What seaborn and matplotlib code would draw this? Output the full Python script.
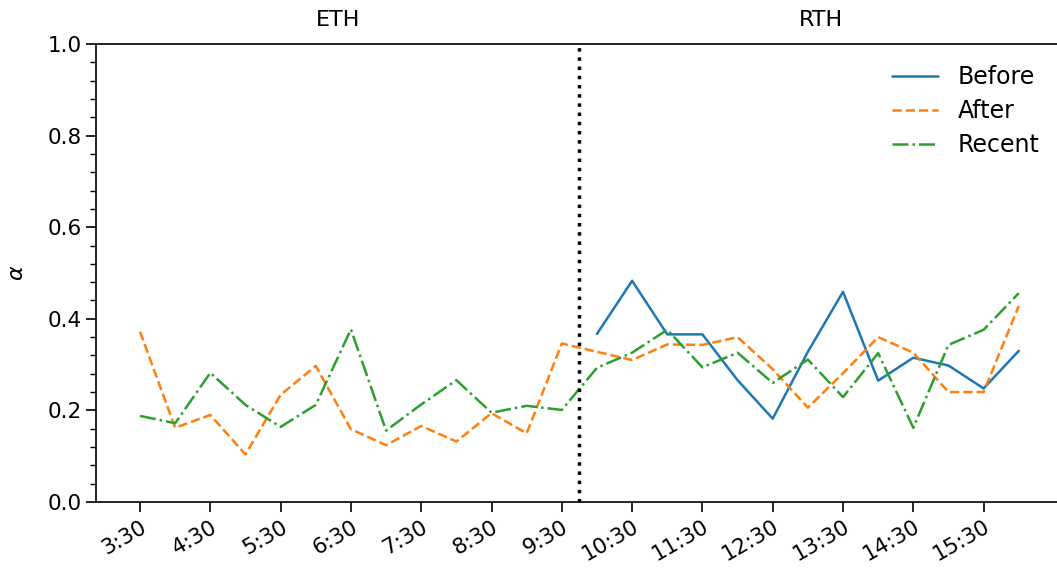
import numpy as np
import pandas as pd
import seaborn as sns
import matplotlib
matplotlib.use("Agg")
import matplotlib.pyplot as plt
from matplotlib.ticker import MultipleLocator

# Half-hourly time grid (hours), 3:30 through 16:00
times = [3.5 + 0.5 * i for i in range(26)]
time_labels = ["3:30", "4:30", "5:30", "6:30", "7:30", "8:30", "9:30",
               "10:30", "11:30", "12:30", "13:30", "14:30", "15:30"]
tick_positions = [3.5 + i for i in range(13)]

# Regular trading hours only (10:00 - 16:00)
before_times = times[13:]
before = [0.367, 0.483, 0.366, 0.366, 0.266, 0.182, 0.328, 0.459,
          0.265, 0.315, 0.298, 0.248, 0.330]

after = [0.372, 0.162, 0.190, 0.104, 0.234, 0.297, 0.159, 0.124,
         0.166, 0.132, 0.194, 0.150, 0.346, 0.328, 0.310, 0.344,
         0.343, 0.360, 0.290, 0.206, 0.281, 0.360, 0.326, 0.240,
         0.240, 0.428]

recent = [0.188, 0.172, 0.282, 0.212, 0.164, 0.212, 0.377, 0.156,
          0.213, 0.266, 0.195, 0.210, 0.201, 0.293, 0.326, 0.376,
          0.294, 0.326, 0.260, 0.311, 0.229, 0.325, 0.162, 0.343,
          0.376, 0.456]

session_split = 9.75

sns.set_style("ticks", rc={
    "axes.edgecolor": "black",
    "axes.labelcolor": "black",
    "text.color": "black",
    "xtick.color": "black",
    "ytick.color": "black",
})
plt.rcParams["font.family"] = ["DejaVu Sans"]

fig = plt.figure(figsize=(10.57, 5.71), dpi=100)
ax = fig.add_axes([96 / 1057, 69 / 571, 966 / 1057, 458 / 571])

palette = sns.color_palette("tab10")
sns.lineplot(x=before_times, y=before, ax=ax, color=palette[0],
             linestyle="-", linewidth=1.8, label="Before")
sns.lineplot(x=times, y=after, ax=ax, color=palette[1],
             linestyle="--", linewidth=1.8, label="After")
sns.lineplot(x=times, y=recent, ax=ax, color=palette[2],
             linestyle="-.", linewidth=1.8, label="Recent")

ax.axvline(session_split, color="black", linestyle=":", linewidth=2.5)

ax.set_xlim(2.874, 16.615)
ax.set_ylim(0, 1.0)
ax.set_xticks(tick_positions)
ax.set_xticklabels(time_labels, rotation=30, ha="right", rotation_mode="anchor")
ax.yaxis.set_major_locator(MultipleLocator(0.2))
ax.yaxis.set_minor_locator(MultipleLocator(0.04))
ax.tick_params(axis="both", which="major", labelsize=15.5, length=7, width=1.2)
ax.tick_params(axis="y", which="minor", length=4, width=1.0)
for s in ax.spines.values():
    s.set_linewidth(1.2)
ax.spines["right"].set_visible(False)

ax.set_ylabel(r"$\alpha$", fontsize=16)
ax.yaxis.set_label_coords(-0.071, 0.5)

trans = ax.get_xaxis_transform()
ax.text((2.874 + session_split) / 2, 1.052, "ETH", transform=trans,
        ha="center", va="center", fontsize=16)
ax.text((session_split + 16.615) / 2, 1.052, "RTH", transform=trans,
        ha="center", va="center", fontsize=16)

ax.legend(loc="upper right", bbox_to_anchor=(0.999, 1.0), frameon=False,
          fontsize=17, handlelength=1.95, handletextpad=0.85, labelspacing=0.42)

fig.savefig("out.png", dpi=100)
